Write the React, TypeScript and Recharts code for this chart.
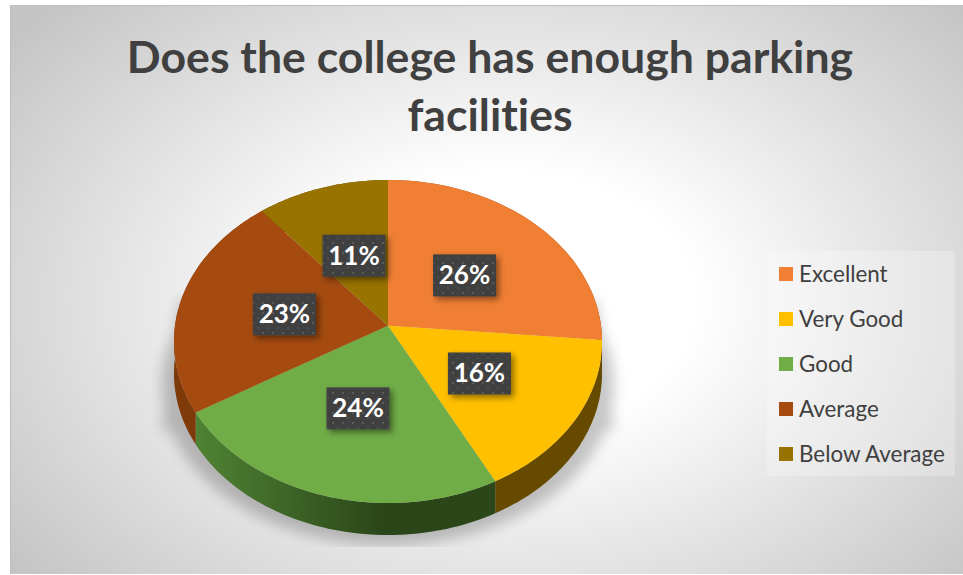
import { PieChart, Pie, Cell, Legend } from 'recharts'

const CATEGORIES = ['Excellent', 'Very Good', 'Good', 'Average', 'Below Average']
const VALUES = [26.4, 16, 24, 22.6, 11]
const COLORS = ['#F07F33', '#FFC000', '#70AD47', '#A54B10', '#997300']
const WALL_COLORS = ['#8a4a1c', '#654A00', 'url(#greenWall)', '#7f3a0a', '#5c4500']
const TITLE_LINES = ['Does the college has enough parking', 'facilities']

const chartData = CATEGORIES.map((name, i) => ({ name, value: VALUES[i] }))
const total = VALUES.reduce((sum, v) => sum + v, 0)

const FONT = 'Lato, "Open Sans", sans-serif'

// Excel's 3D pie is a tilted circle, so squash and skew the polar coords
const TILT = 0.751
const PERSPECTIVE = 0.0978
const DEPTH = 32

const project = (cx: number, cy: number, r: number, angle: number, frac = 1) => {
    const rad = (angle * Math.PI) / 180
    const u = Math.cos(rad) * frac
    const v = Math.sin(rad) * frac
    const w = 1 + PERSPECTIVE * v
    return { x: cx + (r * u) / w, y: cy - (r * TILT * v) / w }
}

const rimPoints = (p: any) => {
    const pts = []
    const steps = 60
    for (let i = 0; i <= steps; i++) {
        const a = p.startAngle + ((p.endAngle - p.startAngle) * i) / steps
        pts.push(project(p.cx, p.cy, p.outerRadius, a))
    }
    return pts
}

const toPath = (pts: { x: number; y: number }[]) =>
    pts.map((pt, i) => `${i ? 'L' : 'M'}${pt.x.toFixed(1)},${pt.y.toFixed(1)}`).join(' ')

const TopFace = (props: any) => {
    const d = `M${props.cx},${props.cy} ${toPath(rimPoints(props)).replace('M', 'L')} Z`
    return <path d={d} fill={props.fill} />
}

const Wall = (props: any) => {
    const rim = rimPoints(props)
    const lower = [...rim].reverse().map((pt) => ({ x: pt.x, y: pt.y + DEPTH }))
    return <path d={`${toPath(rim)} ${toPath(lower).replace('M', 'L')} Z`} fill={props.fill} />
}

const renderLabel = (props: any) => {
    const pt = project(props.cx, props.cy, props.outerRadius, props.midAngle, 0.5)
    const pct = Math.round((props.value / total) * 100)
    const y = pt.y + 2
    return (
        <g>
            <rect x={pt.x - 31} y={y - 21} width={63} height={42} fill="#404040" filter="url(#boxShadow)" />
            <rect x={pt.x - 31} y={y - 21} width={63} height={42} fill="url(#dots)" />
            <text x={pt.x + 0.5} y={y + 9} textAnchor="middle" fill="#fff" fontFamily={FONT} fontWeight={700} fontSize={26}>
                {pct}%
            </text>
        </g>
    )
}

// the two pies would both feed the legend, so list the categories directly
const renderLegend = () => (
    <div style={{ width: 188, height: 225, background: 'rgba(255,255,255,0.25)' }}>
        {CATEGORIES.map((name, i) => (
            <div key={name} style={{ height: 45, display: 'flex', alignItems: 'center', paddingLeft: 12, fontFamily: FONT, fontSize: 22.4, color: '#404040' }}>
                <span style={{ width: 14, height: 14, background: COLORS[i], marginRight: 6, flexShrink: 0 }} />
                {name}
            </div>
        ))}
    </div>
)

export default function App() {
    return (
        <div style={{ position: 'absolute', left: 0, top: 0, width: 963, height: 575, background: '#fff', overflow: 'hidden' }}>
            <div style={{
                position: 'absolute', left: 10, top: 5, width: 953, height: 569,
                boxSizing: 'border-box', borderTop: '1px solid #bdbdbd', borderLeft: '1px solid #bdbdbd',
                background: 'radial-gradient(ellipse 66% 76% at 52% 52%, #ffffff 30%, #c4c4c4 100%)',
            }} />
            <PieChart width={963} height={575} style={{ position: 'absolute', left: 0, top: 0 }} margin={{ top: 0, right: 0, bottom: 0, left: 0 }}>
                <defs>
                    <linearGradient id="greenWall" gradientUnits="userSpaceOnUse" x1="197" y1="0" x2="380" y2="0">
                        <stop offset="0" stopColor="#4f8233" />
                        <stop offset="1" stopColor="#2b4719" />
                    </linearGradient>
                    <pattern id="dots" width="10" height="10" patternUnits="userSpaceOnUse">
                        <rect x="2" y="2" width="2" height="2" fill="#5a5a5a" />
                        <rect x="7" y="7" width="2" height="2" fill="#4e4e4e" />
                    </pattern>
                    <filter id="boxShadow" x="-30%" y="-30%" width="170%" height="170%">
                        <feDropShadow dx="3" dy="3" stdDeviation="3" floodColor="#000" floodOpacity="0.45" />
                    </filter>
                    <filter id="pieShadow" x="-20%" y="-20%" width="140%" height="140%">
                        <feGaussianBlur stdDeviation="7" />
                    </filter>
                    <clipPath id="shadowClip">
                        <rect x="0" y="0" width="963" height="547" />
                    </clipPath>
                </defs>
                <g clipPath="url(#shadowClip)">
                    <g filter="url(#pieShadow)" fill="#000" opacity={0.22}>
                        <ellipse cx={388} cy={385} rx={226} ry={160} />
                        <path d="M180,300 L596,300 L614,430 L162,430 Z" />
                    </g>
                </g>
                {TITLE_LINES.map((line, i) => (
                    <text key={line} x={490} y={73 + i * 58} textAnchor="middle" fontFamily={FONT} fontWeight={700} fontSize={44.6} fill="#404040" style={{ fontVariantLigatures: 'none' }}>
                        {line}
                    </text>
                ))}
                <Pie
                    data={chartData}
                    dataKey="value"
                    nameKey="name"
                    cx={388}
                    cy={325.7}
                    outerRadius={213}
                    startAngle={90}
                    endAngle={-270}
                    stroke="none"
                    legendType="none"
                    shape={Wall}
                    isAnimationActive={false}
                >
                    {chartData.map((entry, index) => (
                        <Cell key={entry.name} fill={WALL_COLORS[index]} />
                    ))}
                </Pie>
                <Pie
                    data={chartData}
                    dataKey="value"
                    nameKey="name"
                    cx={388}
                    cy={325.7}
                    outerRadius={213}
                    startAngle={90}
                    endAngle={-270}
                    stroke="none"
                    shape={TopFace}
                    label={renderLabel}
                    labelLine={false}
                    isAnimationActive={false}
                >
                    {chartData.map((entry, index) => (
                        <Cell key={entry.name} fill={COLORS[index]} />
                    ))}
                </Pie>
                <Legend
                    content={renderLegend}
                    wrapperStyle={{ position: 'absolute', left: 767, top: 251, width: 188 }}
                />
            </PieChart>
        </div>
    )
}
